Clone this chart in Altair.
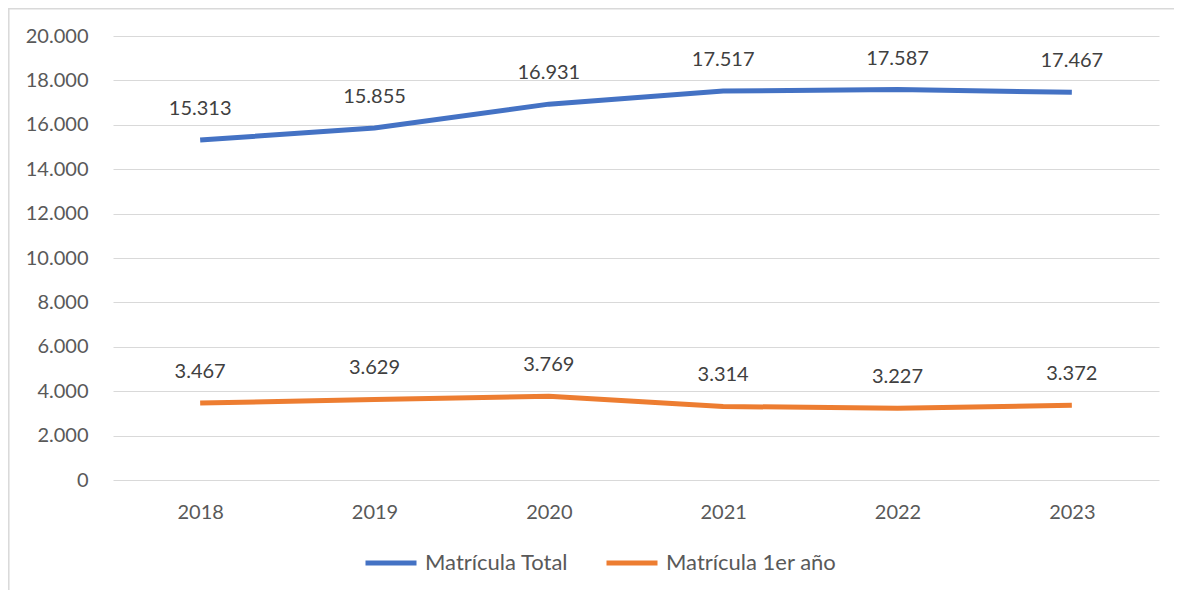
import altair as alt
import pandas as pd

years = ["2018", "2019", "2020", "2021", "2022", "2023"]
series_names = ["Matrícula Total", "Matrícula 1er año"]
total = [15313, 15855, 16931, 17517, 17587, 17467]
first_year = [3467, 3629, 3769, 3314, 3227, 3372]
y_ticks = [0, 2000, 4000, 6000, 8000, 10000, 12000, 14000, 16000, 18000, 20000]
colors = ["#4472C4", "#ED7D31"]

rows = []
for name, vals in zip(series_names, [total, first_year]):
    for yr, v in zip(years, vals):
        rows.append({"year": yr, "series": name, "value": v})
df = pd.DataFrame(rows)

FONT = "Lato"
fmt = "replace(format(datum.value, ','), ',', '.')"

x = alt.X("year:O", title=None, sort=years,
          scale=alt.Scale(type="point", padding=0.5),
          axis=alt.Axis(labelAngle=0, domain=False, ticks=False, grid=False,
                        labelFontSize=20, labelColor="#595959", labelFont=FONT,
                        labelPadding=22))
y = alt.Y("value:Q", title=None,
          scale=alt.Scale(domain=[0, 20000], nice=False),
          axis=alt.Axis(values=y_ticks, labelExpr=fmt, domain=False, ticks=False,
                        gridColor="#D9D9D9", gridWidth=1.2,
                        labelFontSize=20, labelColor="#595959", labelFont=FONT,
                        labelPadding=25))
color = alt.Color("series:N", sort=series_names,
                  scale=alt.Scale(domain=series_names, range=colors),
                  legend=alt.Legend(title=None, orient="none", direction="horizontal",
                                    legendX=250, legendY=499,
                                    symbolType="stroke", symbolSize=2601,
                                    symbolStrokeWidth=5, labelFontSize=22,
                                    labelFont=FONT, labelColor="#595959",
                                    labelOffset=6, columnPadding=27, padding=0,
                                    labelLimit=400))

base = alt.Chart(df)
lines = base.mark_line(strokeWidth=5, strokeCap="butt").encode(x=x, y=y, color=color)
labels = base.transform_calculate(lbl=fmt).mark_text(
    dy=-31, baseline="middle", fontSize=20, font=FONT, color="#404040"
).encode(x=x, y=y, text="lbl:N")

border_top = alt.Chart(pd.DataFrame({"a": [0]})).mark_rule(color="#D9D9D9", strokeWidth=1.5).encode(
    x=alt.value(-105), x2=alt.value(1080), y=alt.value(-27.2))
border_left = alt.Chart(pd.DataFrame({"a": [0]})).mark_rule(color="#D9D9D9", strokeWidth=1.5).encode(
    x=alt.value(-104.2), y=alt.value(-28), y2=alt.value(600))

chart = alt.layer(border_top, border_left, lines, labels).properties(
    width=1046, height=444,
    autosize=alt.AutoSizeParams(type="none"),
    padding={"left": 105, "top": 28, "right": 15, "bottom": 110},
).configure(font=FONT).configure_view(stroke=None, strokeWidth=0)

chart.save("out.html", embed_options={"renderer": "svg", "actions": False})
